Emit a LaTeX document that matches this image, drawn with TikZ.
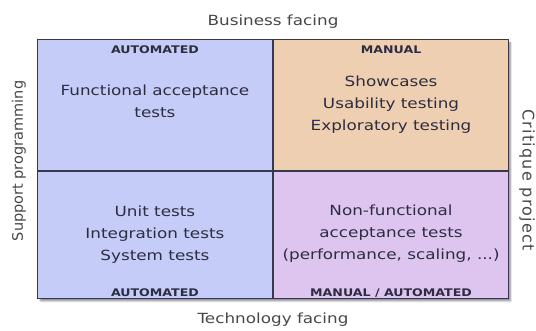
\documentclass[tikz,border=0pt]{standalone}
\usepackage{fontspec}
\usepackage{xcolor}
\newfontfamily\quadfont[FakeStretch=1.2]{DejaVu Sans}
\newfontfamily\sidefont{DejaVu Sans}
\newfontfamily\widesidefont[LetterSpace=8]{DejaVu Sans}
\usetikzlibrary{shadows.blur}

\definecolor{autoblue}{RGB}{196,204,247}
\definecolor{manualpeach}{RGB}{239,207,178}
\definecolor{mixlilac}{RGB}{221,197,240}
\definecolor{edgegray}{RGB}{55,55,78}
\definecolor{inkgray}{RGB}{45,45,65}

\begin{document}
\begin{tikzpicture}[x=1pt,y=1pt,
    board/.style={minimum width=470pt, minimum height=258pt, inner sep=0pt, fill=white,
      blur shadow={shadow blur steps=6, shadow xshift=2.5pt, shadow yshift=-3pt, shadow opacity=45}},
    quadrant/.style={draw=edgegray, line width=1.1pt, minimum width=235pt, inner sep=0pt},
    tests/.style={font=\quadfont\fontsize{14}{22}\selectfont, align=center, text=inkgray},
    kind/.style={font=\quadfont\bfseries\fontsize{10.5}{12}\selectfont, text=inkgray},
    facing/.style={font=\quadfont\fontsize{14}{16}\selectfont, text=black!72},
    side/.style={font=\sidefont\fontsize{14.5}{16}\selectfont, text=black!72}]
  \useasboundingbox (0,0) rectangle (536,331);

  % the board and its shadow
  \node[board] (board) at (273,162) {};

  % the four quadrants
  \node[quadrant, fill=autoblue, minimum height=131pt, anchor=south east] (busauto) at (273,160) {};
  \node[quadrant, fill=manualpeach, minimum height=131pt, anchor=south west] (busmanual) at (273,160) {};
  \node[quadrant, fill=autoblue, minimum height=127pt, anchor=north east] (techauto) at (273,160) {};
  \node[quadrant, fill=mixlilac, minimum height=127pt, anchor=north west] (techmixed) at (273,160) {};

  % Business facing, top row
  \node[kind] (busautokind) at ([yshift=-11pt]busauto.north) {AUTOMATED};
  \node[tests] (busautotests) at ([yshift=3.5pt]busauto.center) {Functional acceptance\\tests};
  \node[kind] (busmanualkind) at ([yshift=-11pt]busmanual.north) {MANUAL};
  \node[tests] (busmanualtests) at ([yshift=0.5pt]busmanual.center)
    {Showcases\\Usability testing\\Exploratory testing};

  % Technology facing, bottom row
  \node[tests] (techautotests) at ([yshift=0.5pt]techauto.center)
    {Unit tests\\Integration tests\\System tests};
  \node[kind] (techautokind) at ([yshift=6pt]techauto.south) {AUTOMATED};
  \node[tests] (techmixedtests) at ([yshift=1.5pt]techmixed.center)
    {Non-functional\\acceptance tests\\(performance, scaling, ...)};
  \node[kind] (techmixedkind) at ([yshift=6pt]techmixed.south) {MANUAL / AUTOMATED};

  % the four axes
  \node[facing] (business) at (273,309) {Business facing};
  \node[facing] (technology) at (273,11) {Technology facing};
  \node[side, rotate=90] (support) at (19,170) {Support programming};
  \node[side, rotate=-90, font=\widesidefont\fontsize{16}{18}\selectfont] (critique) at (527,151) {Critique project};

\end{tikzpicture}
\end{document}
